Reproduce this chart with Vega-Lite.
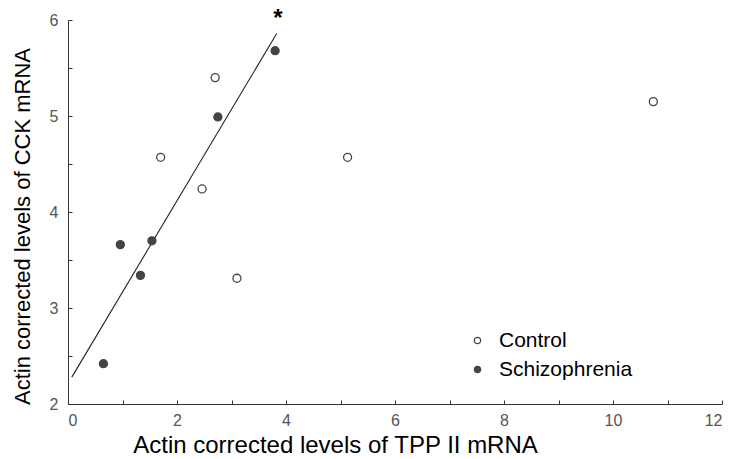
{
  "$schema": "https://vega.github.io/schema/vega-lite/v6.json",
  "width": 654,
  "height": 384,
  "autosize": {"type": "none"},
  "padding": {"left": 68, "top": 20, "right": 13, "bottom": 55},
  "background": "white",
  "config": {
    "view": {"stroke": null},
    "axis": {
      "grid": false,
      "domainColor": "#333333",
      "domainWidth": 1,
      "tickColor": "#333333",
      "tickWidth": 1,
      "labelFont": "Liberation Sans",
      "labelFontSize": 16,
      "labelColor": "#555555",
      "titleFont": "Liberation Sans",
      "titleFontWeight": "normal",
      "titleColor": "#000000"
    }
  },
  "datasets": {
    "pts": [
      {"tpp": 2.70, "cck": 5.40, "group": "Control"},
      {"tpp": 1.70, "cck": 4.57, "group": "Control"},
      {"tpp": 2.46, "cck": 4.24, "group": "Control"},
      {"tpp": 3.10, "cck": 3.31, "group": "Control"},
      {"tpp": 5.13, "cck": 4.57, "group": "Control"},
      {"tpp": 10.74, "cck": 5.15, "group": "Control"},
      {"tpp": 3.80, "cck": 5.68, "group": "Schizophrenia"},
      {"tpp": 2.75, "cck": 4.99, "group": "Schizophrenia"},
      {"tpp": 1.54, "cck": 3.70, "group": "Schizophrenia"},
      {"tpp": 0.96, "cck": 3.66, "group": "Schizophrenia"},
      {"tpp": 1.33, "cck": 3.34, "group": "Schizophrenia"},
      {"tpp": 0.65, "cck": 2.42, "group": "Schizophrenia"}
    ],
    "fit": [
      {"tpp": 0.07, "cck": 2.28},
      {"tpp": 3.83, "cck": 5.86}
    ],
    "note": [
      {"tpp": 3.85, "cck": 6.015, "label": "*"}
    ]
  },
  "layer": [
    {
      "data": {"name": "fit"},
      "mark": {"type": "line", "color": "#222222", "strokeWidth": 1.1},
      "encoding": {
        "x": {
          "field": "tpp", "type": "quantitative",
          "scale": {"domain": [0, 12], "nice": false, "zero": false},
          "axis": {
            "title": "Actin corrected levels of TPP II mRNA",
            "titleFontSize": 24,
            "values": [0,1,2,3,4,5,6,7,8,9,10,11,12],
            "labelExpr": "datum.value % 2 === 0 ? format(datum.value, 'd') : ''",
            "tickSize": -4,
            "labelPadding": 12,
            "titleX": 267,
            "titleY": 48,
            "titleAlign": "center",
            "titleBaseline": "alphabetic"
          }
        },
        "y": {
          "field": "cck", "type": "quantitative",
          "scale": {"domain": [2, 6], "nice": false, "zero": false},
          "axis": {
            "title": "Actin corrected levels of CCK mRNA",
            "titleFontSize": 22,
            "values": [2,2.5,3,3.5,4,4.5,5,5.5,6],
            "labelExpr": "datum.value % 1 === 0 ? format(datum.value, 'd') : ''",
            "tickSize": -4,
            "labelPadding": 14,
            "titleX": -34,
            "titleY": 206,
            "titleAlign": "center",
            "titleBaseline": "bottom"
          }
        }
      }
    },
    {
      "data": {"name": "pts"},
      "mark": {"type": "point", "filled": true, "size": 64, "stroke": "#444444", "strokeWidth": 1.3, "opacity": 1},
      "encoding": {
        "x": {"field": "tpp", "type": "quantitative"},
        "y": {"field": "cck", "type": "quantitative"},
        "fill": {
          "field": "group", "type": "nominal",
          "scale": {"domain": ["Control", "Schizophrenia"], "range": ["#ffffff", "#444444"]},
          "legend": {
            "title": null,
            "orient": "none",
            "legendX": 399,
            "legendY": 310,
            "labelFont": "Liberation Sans",
            "labelFontSize": 21,
            "labelColor": "#000000",
            "symbolSize": 40,
            "symbolStrokeColor": "#444444",
            "symbolStrokeWidth": 1.3,
            "labelOffset": 11,
            "rowPadding": 7,
            "padding": 0
          }
        }
      }
    },
    {
      "data": {"name": "note"},
      "mark": {"type": "text", "font": "Liberation Sans", "fontSize": 24, "fontWeight": "bold", "color": "#000000", "baseline": "middle", "align": "center"},
      "encoding": {
        "x": {"field": "tpp", "type": "quantitative"},
        "y": {"field": "cck", "type": "quantitative"},
        "text": {"field": "label"}
      }
    }
  ]
}
